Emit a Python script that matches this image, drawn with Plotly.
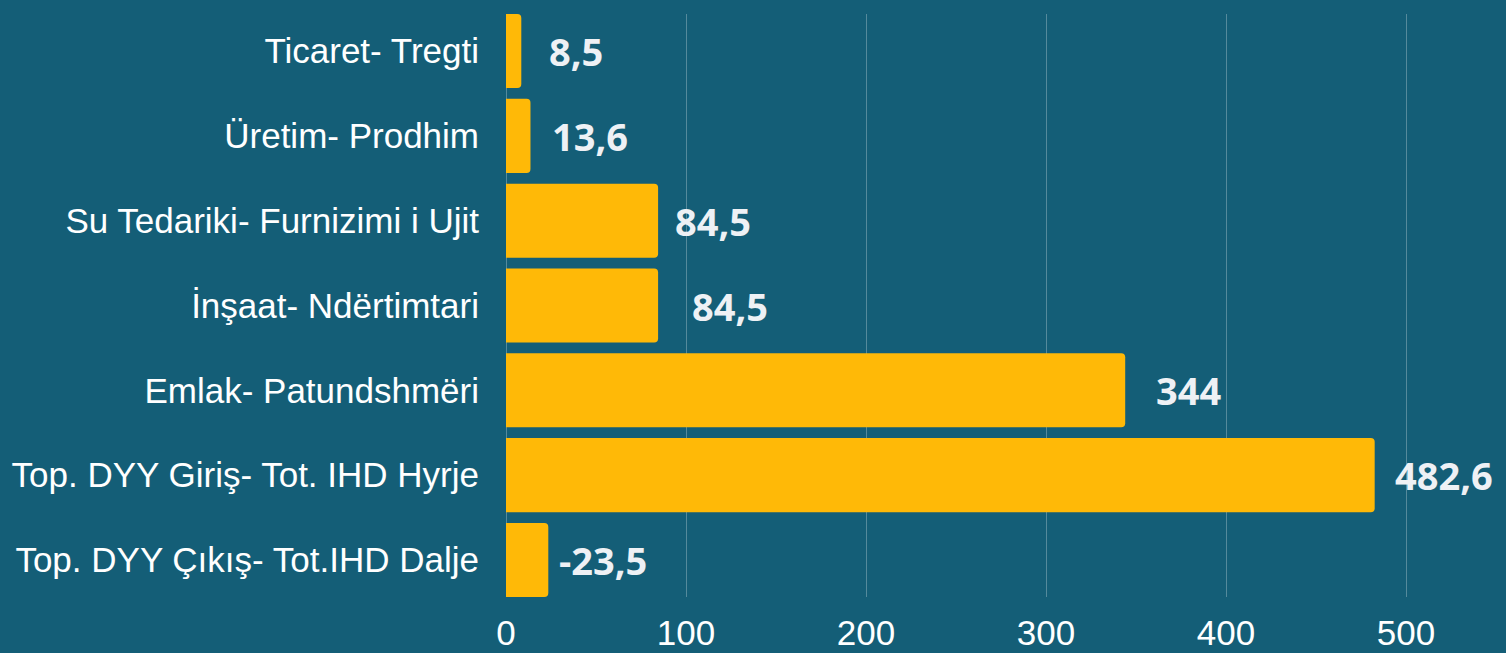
import plotly.graph_objects as go

categories = [
    "Ticaret- Tregti",
    "Üretim- Prodhim",
    "Su Tedariki- Furnizimi i Ujit",
    "İnşaat- Ndërtimtari",
    "Emlak- Patundshmëri",
    "Top. DYY Giriş- Tot. IHD Hyrje",
    "Top. DYY Çıkış- Tot.IHD Dalje",
]
values = [8.5, 13.6, 84.5, 84.5, 344, 482.6, -23.5]
x_ticks = [0, 100, 200, 300, 400, 500]

# style: per-label horizontal offsets (px) for value labels
label_shift = [26, 20, 15, 32, 29, 18, 9]

BG = "#145e77"
BAR = "#FFB907"

bar_len = [abs(v) for v in values]
labels = [f"{v:g}".replace(".", ",") for v in values]

fig = go.Figure(
    go.Bar(
        x=bar_len,
        y=categories,
        orientation="h",
        marker=dict(color=BAR, cornerradius=4, line=dict(width=0)),
        hoverinfo="skip",
    )
)

for c, v, t, s in zip(categories, bar_len, labels, label_shift):
    fig.add_annotation(
        x=v, y=c, text=f"<b>{t}</b>", showarrow=False,
        xanchor="left", yanchor="middle", xshift=s,
        font=dict(family="Open Sans", size=38, color="#eef1f5"),
    )

n = len(categories)
gap = 0.127
fig.update_layout(
    width=1506, height=653,
    paper_bgcolor=BG, plot_bgcolor=BG,
    margin=dict(l=506, r=10, t=14, b=56),
    bargap=gap,
    showlegend=False,
    xaxis=dict(
        range=[0, 550], tickvals=x_ticks,
        showgrid=True, gridcolor="rgba(255,255,255,0.28)", gridwidth=1,
        zeroline=True, zerolinecolor="rgba(255,255,255,0.28)", zerolinewidth=1,
        tickfont=dict(family="Liberation Sans", size=35, color="#ffffff"),
        ticklabelstandoff=12, showline=False, automargin=False,
    ),
    yaxis=dict(
        categoryorder="array", categoryarray=categories,
        range=[n - 0.5 - gap / 2, -0.5 + gap / 2],
        showgrid=False, zeroline=False,
        tickfont=dict(family="Liberation Sans", size=35, color="#ffffff"),
        ticklabelstandoff=26, automargin=False,
    ),
)

fig.write_html(
    "out.html",
    config={"displayModeBar": False},
    post_script="document.body.style.margin='0';document.body.style.overflow='hidden';document.body.style.backgroundColor='" + BG + "';",
)
